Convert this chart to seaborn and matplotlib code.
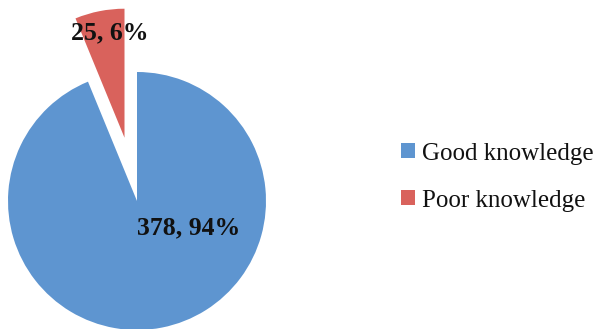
import matplotlib
matplotlib.use("Agg")
import matplotlib.pyplot as plt
import seaborn as sns

categories = ["Good knowledge", "Poor knowledge"]
counts = [378, 25]
percents = [94, 6]
colors = ["#5E95D0", "#D9625C"]

sns.set_theme(style="white")
plt.rcParams["font.family"] = ["Liberation Serif", "DejaVu Serif"]

fig = plt.figure(figsize=(6.0, 3.29), dpi=100)
ax = fig.add_axes([0, 0, 1, 1])
wedges, _ = ax.pie(counts, colors=colors, startangle=90, counterclock=False,
                   explode=[0, 0.5], radius=1.0,
                   wedgeprops=dict(linewidth=0))
R = 129.0
ax.set_xlim(-137 / R, (600 - 137) / R)
ax.set_ylim(-128 / R, (329 - 128) / R)
ax.set_aspect("equal")
ax.axis("off")

labels = [f"{c}, {p}%" for c, p in zip(counts, percents)]
ax.text(0.40, -0.21, labels[0], ha="center", va="center", fontsize=18.5,
        fontweight="bold", color="#111111")
ax.text(-0.21, 1.30, labels[1], ha="center", va="center", fontsize=18.5,
        fontweight="bold", color="#111111")

leg = ax.legend(wedges, categories, loc="center left",
                bbox_to_anchor=(401 / 600, 1 - 177 / 329), frameon=False,
                fontsize=18, handlelength=0.55, handleheight=0.55,
                handletextpad=0.3, labelspacing=1.0, borderaxespad=0,
                borderpad=0)
for t in leg.get_texts():
    t.set_color("#111111")
fig.savefig("out.png", dpi=100)
